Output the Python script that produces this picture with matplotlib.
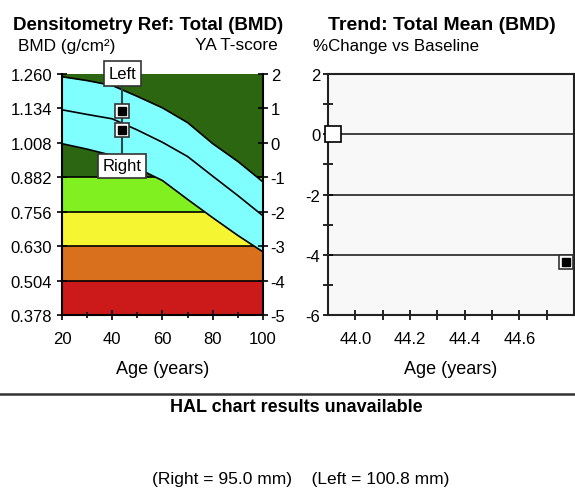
import numpy as np
import matplotlib.pyplot as plt

plt.rcParams['font.family'] = ['Liberation Sans', 'DejaVu Sans']
plt.rcParams['axes.unicode_minus'] = False

# reference curve (BMD vs age)
ref_age = [20, 30, 40, 50, 60, 70, 80, 90, 100]
ref_upper = [1.250, 1.236, 1.218, 1.178, 1.136, 1.082, 1.005, 0.940, 0.865]
ref_mean = [1.129, 1.112, 1.096, 1.055, 1.010, 0.958, 0.886, 0.815, 0.741]
ref_lower = [1.005, 0.985, 0.962, 0.915, 0.870, 0.801, 0.734, 0.669, 0.609]

# colour zones (BMD)
zone_edges = [0.378, 0.504, 0.630, 0.756, 0.882, 1.260]
zone_colors = ['#cc1a1a', '#d8701e', '#f5f532', '#80f020', '#2d6610']

bmd_ticks = [0.378, 0.504, 0.630, 0.756, 0.882, 1.008, 1.134, 1.260]
tscore_ticks = [-5, -4, -3, -2, -1, 0, 1, 2]

# patient points
pt_age = [44.0, 44.0]
pt_bmd = [1.126, 1.055]
pt_labels = ['Left', 'Right']

# trend
trend_age = [43.92, 44.77]
trend_pct = [0.0, -4.25]

fig = plt.figure(figsize=(5.75, 5.02), dpi=100)

# ---------- left: reference chart
ax = fig.add_axes([0.1078, 0.3705, 0.3496, 0.4801])
for i in range(len(zone_colors)):
    ax.axhspan(zone_edges[i], zone_edges[i + 1], color=zone_colors[i], lw=0, zorder=0)
for e in zone_edges[1:-1]:
    ax.axhline(e, color='black', lw=1.2, zorder=1)
ax.fill_between(ref_age, ref_lower, ref_upper, color='#80ffff', lw=0, zorder=2)
for c in [ref_upper, ref_mean, ref_lower]:
    ax.plot(ref_age, c, color='black', lw=1.2, zorder=3)

ax.plot([pt_age[0], pt_age[0]], [1.230, 0.960], color='#2a4a4a', lw=1.5, zorder=4)
ax.plot(pt_age, pt_bmd, 's', ms=10, mfc='white', mec='#333333', mew=1.2, zorder=5)
ax.plot(pt_age, pt_bmd, 's', ms=6, mfc='black', mec='black', zorder=6)
ax.text(pt_age[0], 1.262, pt_labels[0], ha='center', va='center', fontsize=12, zorder=7,
        clip_on=False,
        bbox=dict(boxstyle='square,pad=0.28', fc='white', ec='#333333', lw=1.2))
ax.text(pt_age[0], 0.924, pt_labels[1], ha='center', va='center', fontsize=12, zorder=7,
        bbox=dict(boxstyle='square,pad=0.28', fc='white', ec='#333333', lw=1.2))

ax.set_xlim(20, 100)
ax.set_ylim(0.378, 1.260)
ax.set_yticks(bmd_ticks)
ax.set_yticklabels(['%.3f' % v for v in bmd_ticks])
ax.set_xticks([20, 40, 60, 80, 100])
ax.set_xticks([30, 50, 70, 90], minor=True)
ax.tick_params(axis='both', labelsize=12, direction='inout', length=7, width=1.2)
ax.tick_params(axis='x', which='minor', direction='inout', length=5, width=1.2)
ax.tick_params(axis='x', pad=8)
for s in ['top', 'right']:
    ax.spines[s].set_visible(False)
for s in ['left', 'bottom']:
    ax.spines[s].set_linewidth(1.5)
ax.set_xlabel('Age (years)', fontsize=13, labelpad=10)

ax2 = ax.twinx()
ax2.set_ylim(-5, 2)
ax2.set_yticks(tscore_ticks)
ax2.tick_params(axis='y', labelsize=12, direction='inout', length=7, width=1.2, pad=2)
for s in ['top', 'left', 'bottom']:
    ax2.spines[s].set_visible(False)
ax2.spines['right'].set_linewidth(1.5)

# ---------- right: trend chart
axt = fig.add_axes([0.5704, 0.3705, 0.4278, 0.4801])
axt.set_facecolor('#f8f8f8')
for g in [-4, -2, 0]:
    axt.axhline(g, color='#333333', lw=1.3, zorder=1)
axt.plot(trend_age[:1], trend_pct[:1], 's', ms=11, mfc='white', mec='black', mew=1.2, zorder=3,
         clip_on=False)
axt.plot(trend_age[1:], trend_pct[1:], 's', ms=10, mfc='white', mec='#333333', mew=1.2, zorder=3,
         clip_on=False)
axt.plot(trend_age[1:], trend_pct[1:], 's', ms=6, mfc='black', mec='black', zorder=4, clip_on=False)
axt.set_xlim(43.90, 44.80)
axt.set_ylim(-6, 2)
axt.set_yticks([-6, -4, -2, 0, 2])
axt.set_yticks([-5, -3, -1, 1], minor=True)
axt.set_xticks([44.0, 44.2, 44.4, 44.6])
axt.set_xticklabels(['44.0', '44.2', '44.4', '44.6'])
axt.set_xticks([44.1, 44.3, 44.5, 44.7], minor=True)
axt.tick_params(axis='both', which='both', labelsize=12, direction='inout', length=7, width=1.2)
axt.tick_params(axis='x', pad=8)
axt.tick_params(axis='y', pad=2)
for s in axt.spines.values():
    s.set_linewidth(1.5)
    s.set_color('#222222')
axt.set_xlabel('Age (years)', fontsize=13, labelpad=10)

# ---------- texts
fig.text(13 / 575, 1 - 25 / 502, 'Densitometry Ref: Total (BMD)', fontsize=13.5, fontweight='bold',
         ha='left', va='center')
fig.text(18 / 575, 1 - 46 / 502, 'BMD (g/cm²)', fontsize=12.4, ha='left', va='center')
fig.text(278 / 575, 1 - 46 / 502, 'YA T-score', fontsize=12.4, ha='right', va='center')
fig.text(442 / 575, 1 - 25 / 502, 'Trend: Total Mean (BMD)', fontsize=14, fontweight='bold',
         ha='center', va='center')
fig.text(313 / 575, 1 - 46 / 502, '%Change vs Baseline', fontsize=12.2, ha='left', va='center')

fig.add_artist(plt.Line2D([0, 1], [1 - 395 / 502, 1 - 395 / 502], color='#333333', lw=1.8))
fig.text(296 / 575, 1 - 408 / 502, 'HAL chart results unavailable', fontsize=13, fontweight='bold',
         ha='center', va='center')
fig.text(301 / 575, 1 - 480 / 502, '(Right = 95.0 mm)    (Left = 100.8 mm)', fontsize=12.5,
         ha='center', va='center')

fig.savefig('out.png', dpi=100)
